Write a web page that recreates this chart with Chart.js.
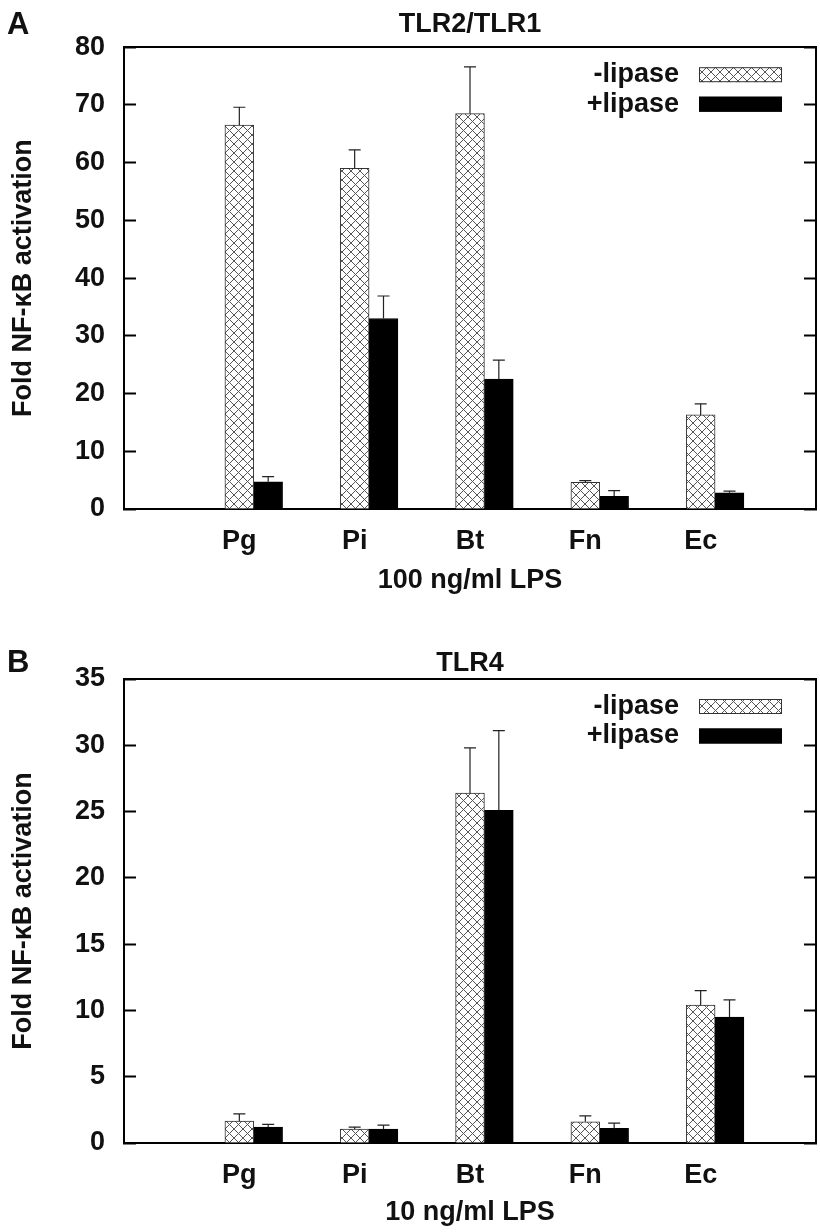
<!DOCTYPE html>
<html><head><meta charset="utf-8">
<script src="https://cdn.jsdelivr.net/npm/chart.js@4.4.1/dist/chart.umd.min.js"></script>
<style>
html,body{margin:0;padding:0;background:#fff;}
#wrap{position:relative;width:820px;height:1232px;overflow:hidden;}
.panel{position:absolute;left:0;width:820px;height:616px;}
.letter{position:absolute;left:7px;font:bold 31px "Liberation Sans",Arial,sans-serif;color:#111;line-height:1;}
</style></head><body>
<div id="wrap">
<div class="panel" style="top:0"><canvas id="c1" width="820" height="616"></canvas></div>
<div class="panel" style="top:616px"><canvas id="c2" width="820" height="616"></canvas></div>
<div class="letter" style="top:8px">A</div>
<div class="letter" style="top:646px">B</div>
</div>
<script>
const categories = ['Pg', 'Pi', 'Bt', 'Fn', 'Ec'];
const seriesLabels = ['-lipase', '+lipase'];

const tlr2Minus    = [66.5, 59.0, 68.5, 4.6, 16.3];
const tlr2MinusErr = [3.1, 3.2, 8.1, 0.3, 1.9];
const tlr2Plus     = [4.7, 33.0, 22.5, 2.2, 2.8];
const tlr2PlusErr  = [0.9, 3.9, 3.3, 1.0, 0.3];
const tlr2YTicks   = [0, 10, 20, 30, 40, 50, 60, 70, 80];

const tlr4Minus    = [1.65, 1.05, 26.4, 1.6, 10.4];
const tlr4MinusErr = [0.55, 0.15, 3.4, 0.45, 1.1];
const tlr4Plus     = [1.2, 1.05, 25.1, 1.1, 9.5];
const tlr4PlusErr  = [0.2, 0.3, 6.0, 0.4, 1.3];
const tlr4YTicks   = [0, 5, 10, 15, 20, 25, 30, 35];

const FONT = "'Liberation Sans', Arial, Helvetica, sans-serif";
Chart.defaults.font.family = FONT;
Chart.defaults.color = '#111';

function hatchPattern(ctx) {
  const s = 9;
  const c = document.createElement('canvas');
  c.width = s; c.height = s;
  const g = c.getContext('2d');
  g.fillStyle = '#fff'; g.fillRect(0, 0, s, s);
  g.strokeStyle = '#555'; g.lineWidth = 1;
  g.beginPath();
  for (const o of [-s, 0, s]) {
    g.moveTo(o, 0); g.lineTo(o + s, s);
    g.moveTo(o + s, 0); g.lineTo(o, s);
  }
  g.stroke();
  return ctx.createPattern(c, 'repeat');
}

const errorBars = {
  id: 'errorBars',
  afterDatasetsDraw(chart) {
    const ctx = chart.ctx, y = chart.scales.y;
    chart.data.datasets.forEach((ds, di) => {
      const meta = chart.getDatasetMeta(di);
      meta.data.forEach((bar, i) => {
        const top = y.getPixelForValue(ds.data[i].y + ds.errors[i]);
        ctx.save();
        ctx.strokeStyle = '#222'; ctx.lineWidth = 1.2;
        ctx.beginPath();
        ctx.moveTo(bar.x, bar.y); ctx.lineTo(bar.x, top);
        ctx.moveTo(bar.x - 6, top); ctx.lineTo(bar.x + 6, top);
        ctx.stroke();
        ctx.restore();
      });
    });
  }
};

const boxLegend = {
  id: 'boxLegend',
  afterDraw(chart, args, opts) {
    const ctx = chart.ctx, a = chart.chartArea;
    chart.data.datasets.forEach((ds, i) => {
      const cy = a.top + opts.rows[i];
      ctx.save();
      ctx.font = 'bold 27px ' + FONT;
      ctx.fillStyle = '#111'; ctx.textAlign = 'right'; ctx.textBaseline = 'middle';
      ctx.fillText(ds.label, a.right - opts.textGap, cy);
      ctx.fillStyle = ds.backgroundColor;
      ctx.fillRect(a.right - opts.boxLeft, cy - 7.5, opts.boxW, 15);
      ctx.strokeStyle = ds.borderColor; ctx.lineWidth = 1;
      ctx.strokeRect(a.right - opts.boxLeft + 0.5, cy - 7, opts.boxW - 1, 14);
      ctx.restore();
    });
  }
};

function makeChart(id, title, topHeight, titlePadTop, xTitle, xTitlePad, minus, minusErr, plus, plusErr, yTicks, xHeight) {
  const canvas = document.getElementById(id);
  const ctx = canvas.getContext('2d');
  const hatch = hatchPattern(ctx);
  const yMax = yTicks[yTicks.length - 1];
  const setTicks = s => { s.ticks = yTicks.map(v => ({ value: v })); };
  const tickFont = { size: 27, weight: 'bold' };
  new Chart(ctx, {
    type: 'bar',
    data: {
      datasets: [
        { label: seriesLabels[0], data: minus.map((v, i) => ({ x: i + 1, y: v })), errors: minusErr,
          backgroundColor: hatch, borderColor: '#333', borderWidth: 1, borderSkipped: 'bottom',
          grouped: false, categoryPercentage: 1, barPercentage: 1 },
        { label: seriesLabels[1], data: plus.map((v, i) => ({ x: i + 1.25, y: v })), errors: plusErr,
          backgroundColor: '#000', borderColor: '#000', borderWidth: 1, borderSkipped: 'bottom',
          grouped: false, categoryPercentage: 1, barPercentage: 1 }
      ]
    },
    options: {
      responsive: false, animation: false, events: [],
      layout: { padding: 0 },
      plugins: {
        legend: { display: false }, tooltip: { enabled: false }, title: { display: false },
        boxLegend: { rows: [27.5, 57], textGap: 137, boxLeft: 117, boxW: 83 }
      },
      scales: {
        x: {
          type: 'linear', position: 'bottom', min: 0, max: categories.length + 1, offset: false,
          afterBuildTicks: s => { s.ticks = categories.map((c, i) => ({ value: i + 1 })); },
          afterFit: s => { s.height = xHeight; },
          ticks: { font: tickFont, color: '#111', padding: 16, maxRotation: 0, autoSkip: false,
                   callback: v => categories[v - 1] || '' },
          grid: { display: false, offset: false, drawTicks: false },
          border: { display: true, color: '#000', width: 2 },
          title: { display: true, text: xTitle, color: '#111', font: { size: 27, weight: 'bold' }, padding: { top: 0, bottom: xTitlePad } }
        },
        x2: {
          type: 'linear', position: 'top', min: 0, max: 1,
          afterFit: s => { s.height = topHeight; },
          ticks: { display: false },
          grid: { display: false, drawTicks: false },
          border: { display: true, color: '#000', width: 2 },
          title: { display: true, text: title, color: '#111', font: { size: 27, weight: 'bold' }, padding: { top: titlePadTop, bottom: 0 } }
        },
        y: {
          position: 'left', min: 0, max: yMax, beginAtZero: true,
          afterBuildTicks: setTicks,
          afterFit: s => { s.width = 124; },
          ticks: { font: tickFont, color: '#111', padding: 31 },
          grid: { display: true, drawOnChartArea: false, drawTicks: true, tickLength: -12, tickColor: '#000', tickWidth: 2 },
          border: { display: true, color: '#000', width: 2 },
          title: { display: true, text: 'Fold NF-\u03baB activation', color: '#111', font: { size: 27, weight: 'bold' }, padding: { top: 7, bottom: 0 } }
        },
        y2: {
          position: 'right', min: 0, max: yMax,
          afterBuildTicks: setTicks,
          afterFit: s => { s.width = 4; },
          ticks: { display: false },
          grid: { display: true, drawOnChartArea: false, drawTicks: true, tickLength: -12, tickColor: '#000', tickWidth: 2 },
          border: { display: true, color: '#000', width: 2 }
        }
      }
    },
    plugins: [errorBars, boxLegend]
  });
}

makeChart('c1', 'TLR2/TLR1', 46, 7, '100 ng/ml LPS', 18.8,
  tlr2Minus, tlr2MinusErr, tlr2Plus, tlr2PlusErr, tlr2YTicks, 107);
makeChart('c2', 'TLR4', 63, 31, '10 ng/ml LPS', 2.8,
  tlr4Minus, tlr4MinusErr, tlr4Plus, tlr4PlusErr, tlr4YTicks, 89);
</script>
</body></html>
